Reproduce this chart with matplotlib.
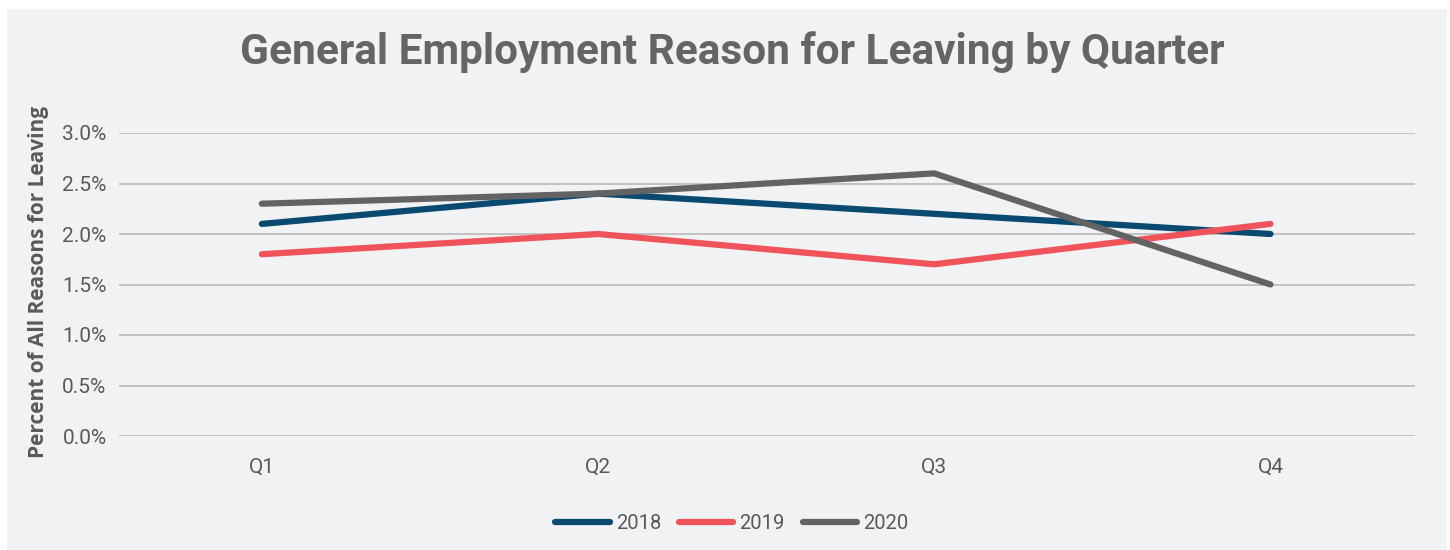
import matplotlib.pyplot as plt
import matplotlib.patches as mpatches
from matplotlib.ticker import FuncFormatter

quarters = ['Q1', 'Q2', 'Q3', 'Q4']
years = ['2018', '2019', '2020']
pct_2018 = [2.1, 2.4, 2.2, 2.0]
pct_2019 = [1.8, 2.0, 1.7, 2.1]
pct_2020 = [2.3, 2.4, 2.6, 1.5]
colors = ['#0b4a70', '#f0545a', '#636363']

bg = '#f1f2f4'
text_grey = '#595959'

fig = plt.figure(figsize=(14.5, 5.5), dpi=100)
fig.patch.set_facecolor('white')
# grey panel with a thin white margin at top/left/right
fig.add_artist(mpatches.Rectangle((7 / 1450, 0), 1440 / 1450, 541 / 550,
                                  transform=fig.transFigure, facecolor=bg,
                                  edgecolor='none', zorder=-10))

ax = fig.add_axes([119 / 1450, 1 - 436 / 550, (1415 - 119) / 1450, (436 - 133) / 550])
ax.set_facecolor(bg)

x = range(len(quarters))
for series, year, c in zip([pct_2018, pct_2019, pct_2020], years, colors):
    ax.plot(x, series, color=c, linewidth=4.5, solid_capstyle='round',
            solid_joinstyle='round', label=year)

ax.set_ylim(0, 3.0)
ax.set_xlim(-0.425, 3.43)
ax.set_yticks([0, 0.5, 1.0, 1.5, 2.0, 2.5, 3.0])
ax.yaxis.set_major_formatter(FuncFormatter(lambda v, p: f'{v:.1f}%'))
ax.set_xticks(list(x))
ax.set_xticklabels(quarters)
ax.grid(axis='y', color='#bdbdbd', linewidth=1.3)
ax.set_axisbelow(True)
for s in ax.spines.values():
    s.set_visible(False)
ax.tick_params(length=0, labelsize=15, labelcolor=text_grey)
ax.tick_params(axis='y', pad=9)
ax.tick_params(axis='x', pad=16)
for lab in ax.get_xticklabels() + ax.get_yticklabels():
    lab.set_family('Roboto')

ax.set_ylabel('Percent of All Reasons for Leaving', fontsize=15, fontweight='bold',
              family='Open Sans', color=text_grey)
ax.yaxis.set_label_coords(-0.054, 0.51)

fig.text(0.505, 0.905, 'General Employment Reason for Leaving by Quarter',
         ha='center', va='center', fontsize=30.5, fontweight='bold',
         family='Roboto', color='#646567')

leg = ax.legend(loc='center', bbox_to_anchor=(0.473, -0.29), ncol=3, frameon=False,
                handlelength=2.7, columnspacing=0.9, handletextpad=0.3,
                prop={'family': 'Roboto', 'size': 14.5})
for t in leg.get_texts():
    t.set_color(text_grey)

fig.savefig('out.png', dpi=100, facecolor='white')
